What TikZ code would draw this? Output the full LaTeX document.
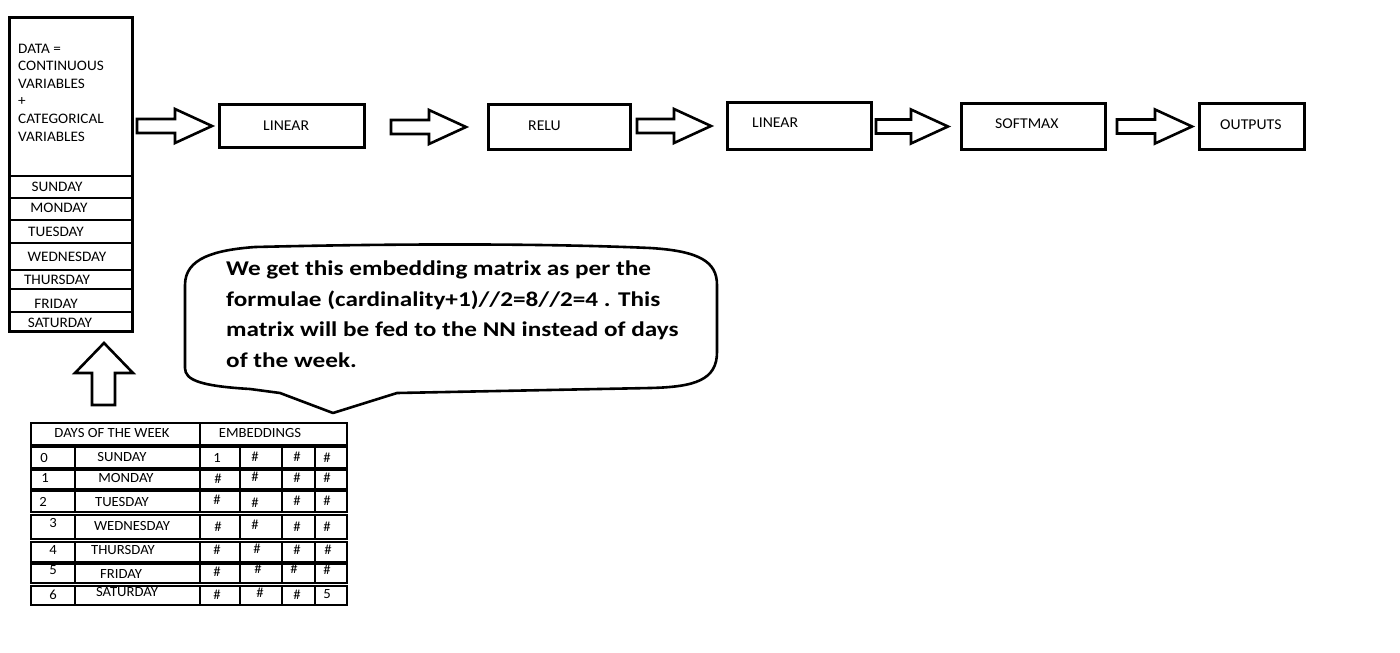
\documentclass[tikz,border=0pt]{standalone}
\usepackage{fontspec}
\setmainfont[FakeStretch=1.05]{Carlito}
\newfontfamily\bubfont[FakeStretch=1.2]{Carlito}
\usetikzlibrary{calc}
\tikzset{
  box/.style={draw,line width=2.6pt,inner sep=0pt,anchor=north west},
  lbl/.style={font=\fontsize{15}{18}\selectfont,inner sep=0pt},
  cl/.style={font=\fontsize{14.5}{17.6}\selectfont,inner sep=0pt},
  tl/.style={font=\fontsize{14}{16}\selectfont,inner sep=0pt},
  blk/.style={draw,line width=2.6pt,line join=miter,fill=white},
  grid/.style={draw,line width=2pt},
  sepline/.style={line width=2.6pt},
  bubble/.style={draw,line width=2.6pt,line join=round},
  bubtext/.style={font=\bubfont\bfseries\fontsize{21}{30.7}\selectfont,inner sep=0pt,align=left,anchor=north west},
}
% block arrow between two nodes: #1 from, #2 to, #3 gap at start, #4 gap at tip
\newcommand\blockarrow[4]{%
  \draw[blk] let \p1=(#1.east), \p2=(#2.west) in
    (\x1+#3pt,\y2+7pt) -- (\x2-#4pt-37pt,\y2+7pt) -- (\x2-#4pt-37pt,\y2+17pt)
    -- (\x2-#4pt,\y2) -- (\x2-#4pt-37pt,\y2-17pt) -- (\x2-#4pt-37pt,\y2-7pt)
    -- (\x1+#3pt,\y2-7pt) -- cycle;}
\begin{document}
\begin{tikzpicture}[x=1pt,y=-1pt]
\useasboundingbox (0,0) rectangle (1400,653);
\fill[white] (0,0) rectangle (1400,653);

% left data column
\node[box,minimum width=123.4pt,minimum height=314.4pt] (data) at (8,16) {};
\foreach \yy in {176,198,220,243,270,289,312}
  \draw[sepline] (8,\yy) -- (134,\yy);
\node[cl,align=left,anchor=north west] (datatext) at (18,43.5)
  {DATA =\\CONTINUOUS\\VARIABLES\\+\\CATEGORICAL\\VARIABLES};
\node[cl] (dsun) at (57,187) {SUNDAY};
\node[cl] (dmon) at (59,208) {MONDAY};
\node[cl] (dtue) at (56,232) {TUESDAY};
\node[cl] (dwed) at (67,256.5) {WEDNESDAY};
\node[cl] (dthu) at (57,280) {THURSDAY};
\node[cl] (dfri) at (56,303.5) {FRIDAY};
\node[cl] (dsat) at (60,322.5) {SATURDAY};

% top row boxes
\node[box,minimum width=145.4pt,minimum height=43.4pt] (lin1) at (218,103) {};
\node[box,minimum width=142.4pt,minimum height=45.4pt] (relu) at (487,103) {};
\node[box,minimum width=144.4pt,minimum height=47.4pt] (lin2) at (726,101) {};
\node[box,minimum width=144.4pt,minimum height=46.4pt] (soft) at (960,102) {};
\node[box,minimum width=105.4pt,minimum height=46.4pt] (outp) at (1198,102) {};
\node[lbl,anchor=west] (tlin1) at (263,126) {LINEAR};
\node[lbl,anchor=west] (trelu) at (528,126) {RELU};
\node[lbl,anchor=west] (tlin2) at (752,123) {LINEAR};
\node[lbl,anchor=west] (tsoft) at (995,124) {SOFTMAX};
\node[lbl,anchor=west] (toutp) at (1220,124.5) {OUTPUTS};

\blockarrow{data}{lin1}{3}{6}
\blockarrow{lin1}{relu}{25}{21}
\blockarrow{relu}{lin2}{5}{15}
\blockarrow{lin2}{soft}{3}{12}
\blockarrow{soft}{outp}{10}{6}

% up arrow from table to data column
\draw[blk] (104,343) -- (133,373) -- (115,373) -- (115,405) -- (92,405) -- (92,373) -- (75,373) -- cycle;

% speech bubble
\draw[bubble] (255,247) .. controls (420,243) and (560,244) .. (650,248)
  .. controls (700,251) and (717,262) .. (717,285)
  -- (717,352)
  .. controls (717,380) and (695,387) .. (650,388)
  -- (397,393) -- (333,413) -- (280,393) -- (250,389)
  .. controls (200,386) and (185,380) .. (185,368)
  -- (185,285)
  .. controls (185,258) and (215,250) .. (255,247) -- cycle;
\node[bubtext] (note) at (226,260.5)
  {We get this embedding matrix as per the\\
   formulae (cardinality+1)//2=8//2=4 . This\\
   matrix will be fed to the NN instead of days\\
   of the week.};

% embeddings table
\draw[grid] (31,423) rectangle (200,445);
\draw[grid] (200,423) rectangle (347,445);
\foreach \ta/\tb in {447/468,470/489,491/512,515/539,542/562,564/583,586/605}{
  \draw[grid] (31,\ta) rectangle (347,\tb);
  \foreach \cx in {75,200,240,282,315}
    \draw[grid] (\cx,\ta) -- (\cx,\tb);
}
\node[tl] (hdays) at (112,433) {DAYS OF THE WEEK};
\node[tl] (hemb) at (260,433) {EMBEDDINGS};

\node[tl] (i0) at (44,458) {0};
\node[tl] (s0) at (122,457) {SUNDAY};
\node[tl] (a0) at (217,458) {1};
\node[tl] (b0) at (255,457) {\#};
\node[tl] (c0) at (297,457) {\#};
\node[tl] (d0) at (327,458) {\#};

\node[tl] (i1) at (45,478) {1};
\node[tl] (s1) at (126,478) {MONDAY};
\node[tl] (a1) at (218,479) {\#};
\node[tl] (b1) at (255,477) {\#};
\node[tl] (c1) at (297,478) {\#};
\node[tl] (d1) at (327,478) {\#};

\node[tl] (i2) at (43,502) {2};
\node[tl] (s2) at (122,502) {TUESDAY};
\node[tl] (a2) at (217,500) {\#};
\node[tl] (b2) at (255,503) {\#};
\node[tl] (c2) at (297,501) {\#};
\node[tl] (d2) at (327,501) {\#};

\node[tl] (i3) at (53,523) {3};
\node[tl] (s3) at (132,526) {WEDNESDAY};
\node[tl] (a3) at (218,527) {\#};
\node[tl] (b3) at (255,525) {\#};
\node[tl] (c3) at (297,527) {\#};
\node[tl] (d3) at (327,527) {\#};

\node[tl] (i4) at (53,550) {4};
\node[tl] (s4) at (123,550) {THURSDAY};
\node[tl] (a4) at (217,550) {\#};
\node[tl] (b4) at (257,549) {\#};
\node[tl] (c4) at (297,550) {\#};
\node[tl] (d4) at (328,550) {\#};

\node[tl] (i5) at (53,570) {5};
\node[tl] (s5) at (121,574) {FRIDAY};
\node[tl] (a5) at (217,572) {\#};
\node[tl] (b5) at (258,569) {\#};
\node[tl] (c5) at (294,569) {\#};
\node[tl] (d5) at (327,570) {\#};

\node[tl] (i6) at (53,595) {6};
\node[tl] (s6) at (127,592) {SATURDAY};
\node[tl] (a6) at (217,595) {\#};
\node[tl] (b6) at (260,593) {\#};
\node[tl] (c6) at (297,595) {\#};
\node[tl] (d6) at (327,594) {5};
\end{tikzpicture}
\end{document}
